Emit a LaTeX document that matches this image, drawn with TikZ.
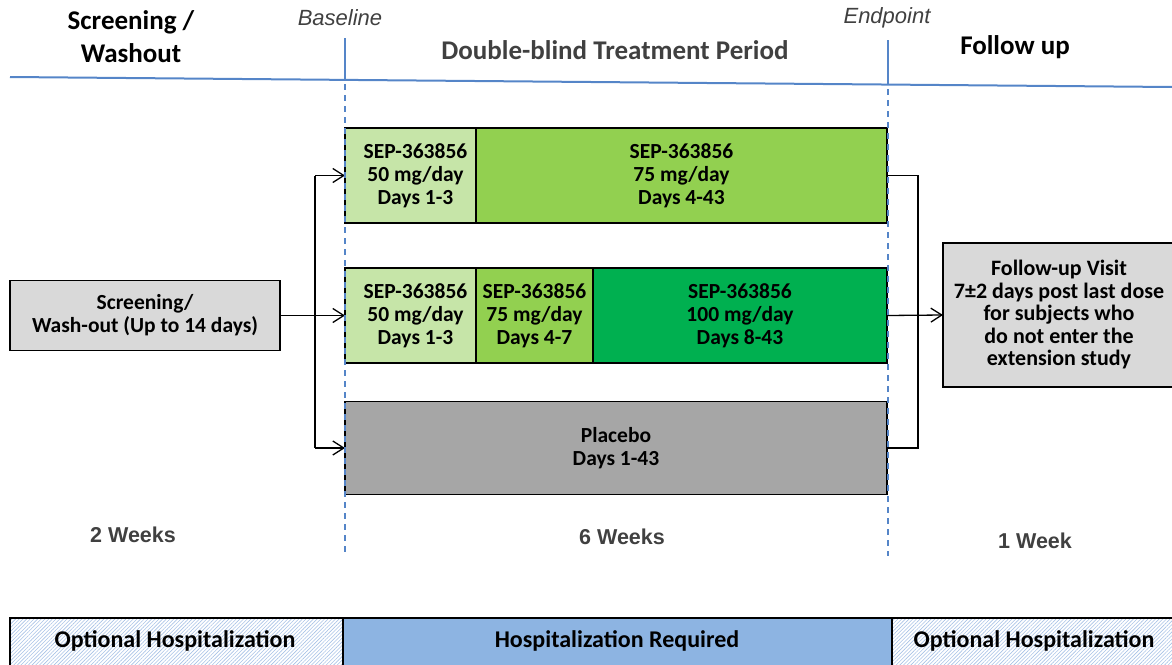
\documentclass[tikz,border=0pt]{standalone}
\usepackage{fontspec}
\setmainfont{Carlito}
\newfontfamily\arialf{Liberation Sans}
\usetikzlibrary{arrows.meta,patterns.meta}
\definecolor{lgreen}{HTML}{C6E5A8}
\definecolor{mgreen}{HTML}{92D050}
\definecolor{dgreen}{HTML}{00B050}
\definecolor{pgray}{HTML}{A6A6A6}
\definecolor{bgray}{HTML}{D9D9D9}
\definecolor{bline}{HTML}{5585C8}
\definecolor{hblue}{HTML}{8DB4E2}
\definecolor{hatchc}{HTML}{A8C2E6}
\definecolor{dtext}{HTML}{404040}
\begin{document}
\begin{tikzpicture}[x=1pt,y=-1pt,
  box/.style={draw=black,line width=1.4pt,inner sep=0pt,outer sep=0pt,align=center,
    font=\fontsize{21.5}{23}\selectfont\bfseries},
  hdr/.style={font=\fontsize{27}{33}\selectfont\bfseries,align=center},
  ital/.style={font=\arialf\itshape\fontsize{22}{24}\selectfont,text=dtext},
  wk/.style={font=\arialf\bfseries\fontsize{21.5}{24}\selectfont,text=dtext},
  conn/.style={line width=1.3pt,draw=black},
  arr/.style={conn,-{Straight Barb[length=11pt,width=14pt,line width=1.3pt]}},
  vdash/.style={draw=bline,line width=1.4pt,dash pattern=on 6pt off 5pt},
  hosp/.style={draw=black,line width=1.2pt},
  hlab/.style={font=\fontsize{24}{28}\selectfont\bfseries},
  hatch/.style={pattern={Lines[angle=45,distance=2.6pt,line width=0.6pt]},pattern color=hatchc}
]
\useasboundingbox (0,0) rectangle (1172,664);

% headers
\node[hdr] (h1) at (131,37) {Screening /\\Washout};
\node[ital] (bl) at (340,18) {Baseline};
\node[ital] (ep) at (887,18) {Endpoint};
\node[hdr,text=dtext] (h2) at (615,50) {Double-blind Treatment Period};
\node[hdr] (h3) at (1015,47) {Follow up};

% top timeline
\draw[bline,line width=2pt] (10,77) -- (1172,87);
\draw[bline,line width=2pt] (345,38) -- (345,80);
\draw[bline,line width=2pt] (888,40) -- (888,85);

% boxes
\node[box,fill=lgreen,minimum width=131pt,minimum height=95pt] (A1) at (410.5,175.5)
  {\hspace*{10pt}SEP-363856\\\hspace*{10pt}50 mg/day\\\hspace*{10pt}Days 1-3};
\node[box,fill=mgreen,minimum width=411pt,minimum height=95pt] (A2) at (681.5,175.5)
  {SEP-363856\\75 mg/day\\Days 4-43};
\node[box,fill=lgreen,minimum width=131pt,minimum height=95pt] (B1) at (410.5,315.5)
  {\hspace*{10pt}SEP-363856\\\hspace*{10pt}50 mg/day\\\hspace*{10pt}Days 1-3};
\node[box,fill=mgreen,minimum width=117pt,minimum height=95pt] (B2) at (534.5,315.5)
  {SEP-363856\\75 mg/day\\Days 4-7};
\node[box,fill=dgreen,minimum width=294pt,minimum height=95pt] (B3) at (740,315.5)
  {SEP-363856\\100 mg/day\\Days 8-43};
\node[box,fill=pgray,minimum width=542pt,minimum height=93pt] (P) at (616,448)
  {Placebo\\Days 1-43};
\node[box,fill=bgray,line width=1.2pt,minimum width=270pt,minimum height=70pt] (S) at (145,315.5)
  {Screening/\\Wash-out (Up to 14 days)};
\node[box,fill=bgray,line width=1.2pt,minimum width=232pt,minimum height=144pt,
  font=\fontsize{22}{22.5}\selectfont\bfseries] (F) at (1059,315)
  {Follow-up Visit\\7±2 days post last dose\\for subjects who\\do not enter the\\extension study};

% connectors left
\coordinate (L1) at (315,175.5);
\coordinate (L3) at (315,448);
\draw[conn] (L1) -- (L3);
\draw[arr] (L1) -- (A1.west);
\draw[arr] (S.east) -- (B1.west);
\draw[arr] (L3) -- (P.west);

% connectors right
\coordinate (R1) at (918,175.5);
\coordinate (R3) at (918,448);
\draw[conn] (A2.east) -- (R1) -- (R3) -- (P.east);
\draw[arr] (B3.east) -- (F.west);

% dashed verticals
\draw[vdash] (345,84) -- (345,556);
\draw[vdash] (888,89) -- (888,556);

% durations
\node[wk] (w1) at (133,535) {2 Weeks};
\node[wk] (w2) at (622,537) {6 Weeks};
\node[wk] (w3) at (1035,541) {1 Week};

% hospitalization bar
\path[hatch] (10,618) rectangle (343,666);
\path[fill=hblue] (343,618) rectangle (892,666);
\path[hatch] (892,618) rectangle (1174,666);
\draw[hosp] (10,666) -- (10,618) -- (1174,618);
\draw[hosp] (343,618) -- (343,666);
\draw[hosp] (892,618) -- (892,666);
\node[hlab] (o1) at (175,641) {Optional Hospitalization};
\node[hlab] (o2) at (617,641) {Hospitalization Required};
\node[hlab] (o3) at (1034,641) {Optional Hospitalization};
\end{tikzpicture}
\end{document}
